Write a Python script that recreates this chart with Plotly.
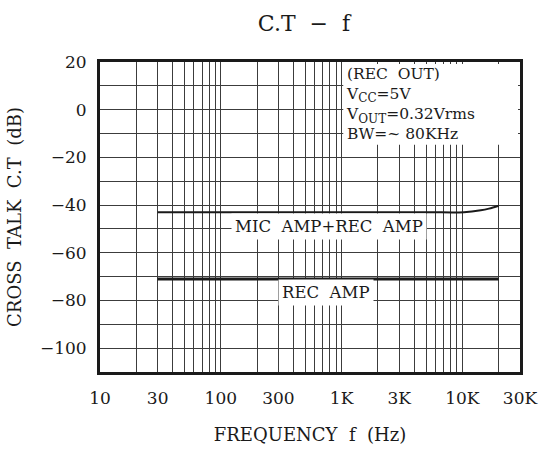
import plotly.graph_objects as go
import numpy as np

# ---- data ----
mic_freq = [30, 100, 1000, 5000, 10300, 14200, 16600, 20000]
mic_ct = [-43.0, -43.0, -43.0, -43.0, -43.0, -42.2, -41.5, -40.3]
rec_freq = [30, 20000]
rec_ct = [-71.0, -71.0]

x_tick_vals = [10, 30, 100, 300, 1000, 3000, 10000, 30000]
x_tick_text = ["10", "30", "100", "300", "1K", "3K", "10K", "30K"]
y_tick_vals = [20, 0, -20, -40, -60, -80, -100]
x_grid_vals = [m * d for d in (10, 100, 1000) for m in range(1, 10)] + [10000, 20000]

FONT = "DejaVu Serif"
NB = "\u00a0"
INK = "#1a1a1a"
GRID = "#3c3c3c"

fig = go.Figure()
fig.add_trace(go.Scatter(x=mic_freq, y=mic_ct, mode="lines",
                         line=dict(color=INK, width=2), showlegend=False,
                         line_shape="spline"))
fig.add_trace(go.Scatter(x=rec_freq, y=rec_ct, mode="lines",
                         line=dict(color=INK, width=3), showlegend=False))

fig.update_layout(
    width=549, height=454,
    margin=dict(l=100, r=26, t=62, b=81),
    paper_bgcolor="white", plot_bgcolor="white",
    font=dict(family=FONT, size=17, color=INK),
    title=dict(text=f"C.T{NB}{NB}−{NB}{NB}f", x=304 / 549, xanchor="center",
               y=1 - 23 / 454, yanchor="middle",
               font=dict(family=FONT, size=22, color=INK)),
)

fig.update_xaxes(
    type="log", range=[1, np.log10(30000)],
    tickmode="array", tickvals=x_tick_vals, ticktext=x_tick_text,
    showgrid=False, ticks="", ticklabelstandoff=9,
    minor=dict(tickmode="array", tickvals=x_grid_vals, showgrid=True,
               gridcolor=GRID, gridwidth=1, ticks=""),
    showline=True, linecolor=INK, linewidth=3, mirror=True,
    title=dict(text=f"FREQUENCY{NB}{NB}f{NB}{NB}(Hz)", standoff=21,
               font=dict(family=FONT, size=18, color=INK)),
    zeroline=False,
)
fig.update_yaxes(
    range=[-110, 20],
    tickmode="array", tickvals=y_tick_vals,
    showgrid=True, gridcolor=GRID, gridwidth=1, ticks="", ticklabelstandoff=7,
    minor=dict(dtick=10, tick0=0, showgrid=True, gridcolor=GRID, gridwidth=1, ticks=""),
    showline=True, linecolor=INK, linewidth=3, mirror=True,
    title=dict(text=f"CROSS{NB}{NB}TALK{NB}{NB}C.T{NB}{NB}(dB)", standoff=14,
               font=dict(family=FONT, size=18, color=INK)),
    zeroline=False,
)

# white box behind the condition text
fig.add_shape(type="rect", xref="paper", yref="paper",
              x0=(345 - 100) / 423, x1=(521 - 100) / 423,
              y0=1 - (145 - 62) / 311, y1=1 - 2 / 311,
              fillcolor="white", line=dict(width=0), layer="above")

SUB = '<sub><span style="font-size:12px">{}</span></sub>'
info_lines = ["(REC" + NB * 2 + "OUT)", "V" + SUB.format("CC") + "=5V",
              "V" + SUB.format("OUT") + "=0.32Vrms", "BW=~" + NB + "80KHz"]
fig.add_annotation(text="<br>".join(info_lines), xref="paper", yref="paper",
                   x=(346 - 100) / 423, xanchor="left",
                   y=1 - 1 / 311, yanchor="top", align="left",
                   showarrow=False, font=dict(family=FONT, size=15.5, color=INK))

fig.add_annotation(text=f"MIC{NB}{NB}AMP+REC{NB}{NB}AMP", x=np.log10(780), y=-49,
                   xref="x", yref="y", showarrow=False, bgcolor="white",
                   borderpad=3, font=dict(family=FONT, size=16.5, color=INK))
fig.add_annotation(text=f"REC{NB}{NB}AMP", x=np.log10(750), y=-76.6,
                   xref="x", yref="y", showarrow=False, bgcolor="white",
                   borderpad=3, font=dict(family=FONT, size=16.5, color=INK))

fig.write_html("out.html")
